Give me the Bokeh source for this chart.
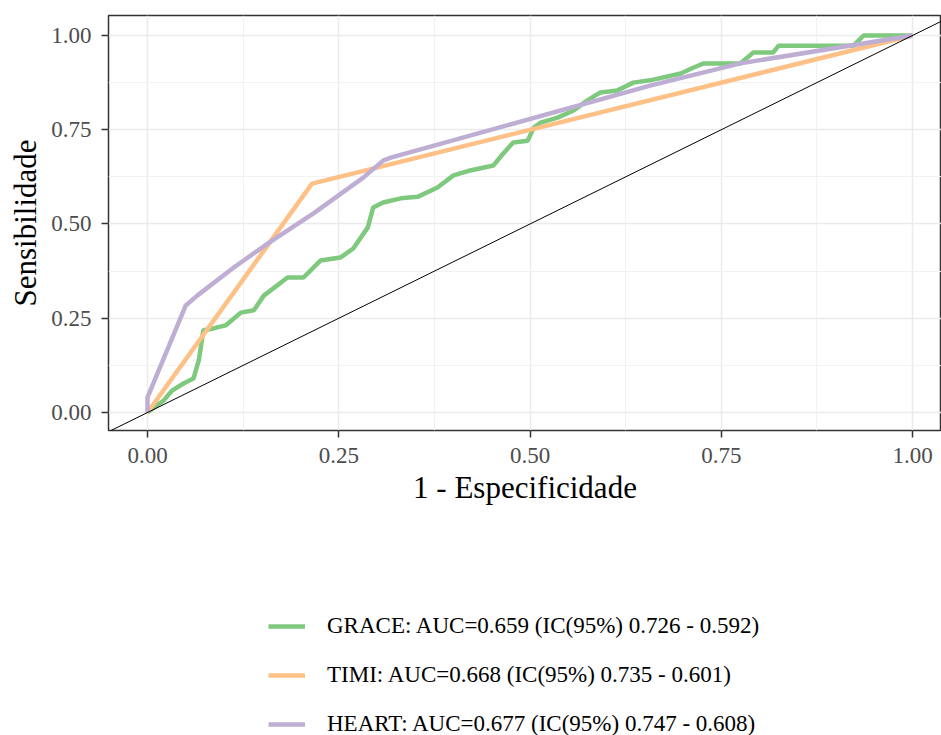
from bokeh.plotting import figure
from bokeh.models import Legend, LegendItem, FixedTicker, Range1d, Slope
from bokeh.layouts import column
from bokeh.embed import file_html
from bokeh.resources import INLINE

# ---- data ----
grace_fpr = [0.0, 0.021, 0.032, 0.047, 0.060, 0.067, 0.073, 0.086, 0.102, 0.122, 0.139, 0.152,
             0.183, 0.204, 0.226, 0.252, 0.269, 0.288, 0.295, 0.308, 0.331, 0.353, 0.379, 0.400,
             0.422, 0.452, 0.465, 0.478, 0.497, 0.505, 0.514, 0.536, 0.557, 0.575, 0.592, 0.614,
             0.635, 0.657, 0.697, 0.714, 0.727, 0.775, 0.792, 0.818, 0.825, 0.923, 0.936, 1.0]
grace_tpr = [0.0, 0.032, 0.058, 0.077, 0.090, 0.138, 0.218, 0.223, 0.231, 0.265, 0.271, 0.310,
             0.358, 0.358, 0.403, 0.411, 0.435, 0.491, 0.544, 0.557, 0.568, 0.572, 0.597, 0.629,
             0.642, 0.655, 0.687, 0.716, 0.721, 0.756, 0.769, 0.782, 0.801, 0.828, 0.849, 0.854,
             0.875, 0.881, 0.899, 0.915, 0.926, 0.926, 0.955, 0.955, 0.973, 0.973, 1.0, 1.0]

timi_fpr = [0.0, 0.215, 1.0]
timi_tpr = [0.0, 0.607, 1.0]

heart_fpr = [0.0, 0.0, 0.050, 0.065, 0.111, 0.157, 0.217, 0.282, 0.308, 0.318, 0.657, 0.775, 1.0]
heart_tpr = [0.0, 0.040, 0.284, 0.310, 0.382, 0.448, 0.528, 0.623, 0.668, 0.676, 0.867, 0.926, 1.0]

labels = ["GRACE: AUC=0.659 (IC(95%) 0.726 - 0.592)",
          "TIMI: AUC=0.668 (IC(95%) 0.735 - 0.601)",
          "HEART: AUC=0.677 (IC(95%) 0.747 - 0.608)"]
colors = ["#7FC97F", "#FDC086", "#BEAED4"]
ticks = [0.0, 0.25, 0.5, 0.75, 1.0]
minor = [0.125, 0.375, 0.625, 0.875]
tick_labels = {0.0: "0.00", 0.25: "0.25", 0.5: "0.50", 0.75: "0.75", 1.0: "1.00"}

SERIF = "Liberation Serif"

# ---- main ROC panel ----
p = figure(output_backend="svg", toolbar_location=None,
           x_range=Range1d(-0.0510, 1.0379), y_range=Range1d(-0.0477, 1.053),
           frame_width=833, frame_height=415,
           min_border_left=108, min_border_top=15, min_border_right=0, min_border_bottom=85)
p.background_fill_color = "white"
p.border_fill_color = "white"
p.outline_line_color = "#333333"
p.outline_line_width = 1.5

for ax in (p.xaxis, p.yaxis):
    ax.ticker = FixedTicker(ticks=ticks, minor_ticks=minor)
    ax.major_label_overrides = tick_labels
    ax.axis_line_color = None
    ax.major_tick_line_color = "#333333"
    ax.major_tick_line_width = 1.5
    ax.major_tick_out = 7
    ax.major_tick_in = 0
    ax.minor_tick_line_color = None
    ax.major_label_text_font = SERIF
    ax.major_label_text_font_size = "23px"
    ax.major_label_text_color = "#4D4D4D"
    ax.axis_label_text_font = SERIF
    ax.axis_label_text_font_style = "normal"
    ax.axis_label_text_color = "black"
    ax.axis_label_text_font_size = "31px"

p.xaxis.axis_label = "1 - Especificidade"
p.xaxis.major_label_standoff = 10
p.xaxis.axis_label_standoff = 4
p.yaxis.axis_label = "Sensibilidade"
p.yaxis.major_label_standoff = 10
p.yaxis.axis_label_standoff = 5

for g in (p.xgrid, p.ygrid):
    g.grid_line_color = "#EBEBEB"
    g.grid_line_width = 1.5
    g.minor_grid_line_color = "#F2F2F2"
    g.minor_grid_line_width = 1

p.add_layout(Slope(gradient=1, y_intercept=0, line_color="black", line_width=1))

r1 = p.line(grace_fpr, grace_tpr, line_color=colors[0], line_width=4.5)
r2 = p.line(timi_fpr, timi_tpr, line_color=colors[1], line_width=4.5)
r3 = p.line(heart_fpr, heart_tpr, line_color=colors[2], line_width=4.5)

# ---- legend strip below (key lines lie outside the strip's visible range) ----
q = figure(output_backend="svg", toolbar_location=None, width=941, height=220,
           x_range=Range1d(10, 11), y_range=Range1d(10, 11),
           x_axis_type=None, y_axis_type=None,
           min_border_left=0, min_border_right=0, min_border_top=0, min_border_bottom=0)
q.outline_line_color = None
q.xgrid.visible = False
q.ygrid.visible = False
k1 = q.line(timi_fpr, timi_tpr, line_color=colors[0], line_width=4.5)
k2 = q.line(timi_fpr, timi_tpr, line_color=colors[1], line_width=4.5)
k3 = q.line(timi_fpr, timi_tpr, line_color=colors[2], line_width=4.5)

legend = Legend(items=[LegendItem(label=labels[0], renderers=[k1]),
                       LegendItem(label=labels[1], renderers=[k2]),
                       LegendItem(label=labels[2], renderers=[k3])],
                location=(160, -2), orientation="vertical",
                label_text_font=SERIF, label_text_font_size="23px",
                label_text_color="black",
                glyph_width=37, glyph_height=22, label_height=22, spacing=23,
                label_standoff=22, padding=0, margin=0,
                border_line_color=None, background_fill_alpha=0)
q.add_layout(legend, "center")

open("out.html", "w").write(file_html(column(p, q, spacing=0), INLINE))
